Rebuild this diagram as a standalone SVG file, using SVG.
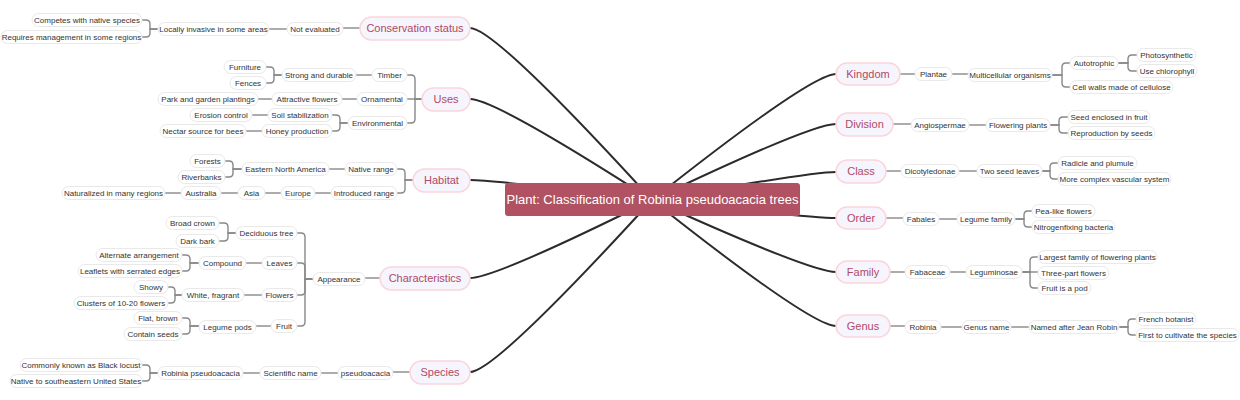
<svg xmlns="http://www.w3.org/2000/svg" width="1240" height="400" viewBox="0 0 1240 400">
<style>
text{font-family:"Liberation Sans",Arial,sans-serif;text-anchor:middle}
.m rect{fill:#f6f4fd;stroke:#fbd5da;stroke-width:1.5}
.m text{font-size:11px;fill:#b04a63}
.s rect{fill:#fff;stroke:#e9e9e9;stroke-width:1}
.s text{font-size:8px;fill:#333}
.main path{fill:none;stroke:#2b2b2b;stroke-width:2}
.sub path{fill:none;stroke:#888;stroke-width:1.4}
</style>
<rect width="1240" height="400" fill="#fff"/>
<g id="connectors">
<g class="main">
<path d="M652 200 Q495 28 470 28"/>
<path d="M652 200 Q495 99 470 99"/>
<path d="M652 200 Q495 180 470 180"/>
<path d="M652 200 Q495 278 470 278"/>
<path d="M652 200 Q495 372 470 372"/>
<path d="M652 200 Q811 74 836 74"/>
<path d="M652 200 Q811 124 836 124"/>
<path d="M652 200 Q811 172 836 172"/>
<path d="M652 200 Q811 218 836 218"/>
<path d="M652 200 Q811 272 836 272"/>
<path d="M652 200 Q811 326 836 326"/>
</g>
<g class="sub">
<path d="M360 28 H343"/><path d="M287 29 H269"/>
<path d="M158 29 H150 V24 Q150 20 146 20 H142"/><path d="M158 29 H150 V33 Q150 37 146 37 H142"/>
<path d="M422 99 H415 V79 Q415 75 411 75 H407"/><path d="M422 99 H407"/><path d="M422 99 H415 V119 Q415 123 411 123 H407"/>
<path d="M372 75 H356"/>
<path d="M282 75 H274 V71 Q274 67 270 67 H266"/><path d="M282 75 H274 V79 Q274 83 270 83 H266"/>
<path d="M357 99 H342"/><path d="M272 99 H258"/>
<path d="M348 123 H340 V119 Q340 115 336 115 H332"/><path d="M348 123 H340 V127 Q340 131 336 131 H332"/>
<path d="M268 115 H252"/><path d="M262 131 H246"/>
<path d="M413 180 H405 V173 Q405 169 401 169 H397"/><path d="M413 180 H405 V189 Q405 193 401 193 H397"/>
<path d="M345 169 H329"/>
<path d="M242 169 H233 V165 Q233 161 229 161 H225"/><path d="M242 169 H233 V173 Q233 177 229 177 H225"/>
<path d="M331 193 H315"/><path d="M281 193 H265"/><path d="M238 193 H221"/><path d="M181 193 H165"/>
<path d="M380 278 H365"/>
<path d="M313 279 H305 V237 Q305 233 301 233 H297"/><path d="M313 279 H305 V267 Q305 263 301 263 H297"/><path d="M313 279 H305 V291 Q305 295 301 295 H297"/><path d="M313 279 H305 V322 Q305 326 301 326 H297"/>
<path d="M236 233 H228 V227 Q228 223 224 223 H219"/><path d="M236 233 H228 V237 Q228 241 224 241 H219"/>
<path d="M262 263 H246"/>
<path d="M199 263 H190 V259 Q190 255 186 255 H182"/><path d="M199 263 H190 V267 Q190 271 186 271 H182"/>
<path d="M262 295 H244"/>
<path d="M182 295 H175 V291 Q175 287 171 287 H168"/><path d="M182 295 H175 V299 Q175 303 171 303 H168"/>
<path d="M271 326 H256"/>
<path d="M199 326 H190 V322 Q190 318 186 318 H182"/><path d="M199 326 H190 V330 Q190 334 186 334 H182"/>
<path d="M410 372 H393"/><path d="M338 373 H321"/><path d="M260 373 H243"/>
<path d="M158 373 H150 V369 Q150 365 146 365 H142"/><path d="M158 373 H150 V377 Q150 381 146 381 H142"/>
<path d="M900 74 H915"/><path d="M952 74 H968"/>
<path d="M1052 75 H1062 V67 Q1062 63 1066 63 H1070"/><path d="M1052 75 H1062 V83 Q1062 87 1066 87 H1070"/>
<path d="M1118 63 H1128 V59 Q1128 55 1132 55 H1137"/><path d="M1118 63 H1128 V67 Q1128 71 1132 71 H1137"/>
<path d="M893 124 H911"/><path d="M969 125 H986"/>
<path d="M1050 125 H1059 V121 Q1059 117 1063 117 H1068"/><path d="M1050 125 H1059 V129 Q1059 133 1063 133 H1068"/>
<path d="M886 171 H901"/><path d="M959 171 H977"/>
<path d="M1042 171 H1050 V167 Q1050 163 1054 163 H1058"/><path d="M1042 171 H1050 V175 Q1050 179 1054 179 H1058"/>
<path d="M886 218 H903"/><path d="M939 219 H957"/>
<path d="M1015 219 H1024 V215 Q1024 211 1028 211 H1032"/><path d="M1015 219 H1024 V223 Q1024 227 1028 227 H1032"/>
<path d="M890 272 H905"/><path d="M950 272 H966"/>
<path d="M1022 272 H1030 V261 Q1030 257 1034 257 H1038"/><path d="M1022 272 H1038"/><path d="M1022 272 H1030 V284 Q1030 288 1034 288 H1038"/>
<path d="M890 326 H905"/><path d="M941 327 H962"/><path d="M1011 327 H1029"/>
<path d="M1119 327 H1128 V323 Q1128 319 1132 319 H1136"/><path d="M1119 327 H1128 V331 Q1128 335 1132 335 H1136"/>
</g>
</g>
<g id="center"><rect x="505" y="183" width="295" height="33" rx="3" fill="#b05262"/><text x="652.5" y="204" font-size="13" fill="#fff">Plant: Classification of Robinia pseudoacacia trees</text></g>
<g id="conservation" class="m"><rect x="360" y="17" width="110" height="23" rx="11.5"/><text x="415" y="32">Conservation status</text></g>
<g id="uses" class="m"><rect x="422" y="88" width="48" height="23" rx="11.5"/><text x="446" y="103">Uses</text></g>
<g id="habitat" class="m"><rect x="413" y="169" width="57" height="23" rx="11.5"/><text x="441.5" y="184">Habitat</text></g>
<g id="characteristics" class="m"><rect x="380" y="267" width="90" height="23" rx="11.5"/><text x="425" y="282">Characteristics</text></g>
<g id="species" class="m"><rect x="410" y="361" width="60" height="23" rx="11.5"/><text x="440" y="376">Species</text></g>
<g id="kingdom" class="m"><rect x="836" y="63" width="64" height="22" rx="11"/><text x="868" y="78">Kingdom</text></g>
<g id="division" class="m"><rect x="836" y="113" width="57" height="23" rx="11.5"/><text x="864.5" y="128">Division</text></g>
<g id="class" class="m"><rect x="836" y="160" width="50" height="23" rx="11.5"/><text x="861" y="175">Class</text></g>
<g id="order" class="m"><rect x="836" y="207" width="50" height="22" rx="11"/><text x="861" y="222">Order</text></g>
<g id="family" class="m"><rect x="836" y="261" width="54" height="22" rx="11"/><text x="863" y="276">Family</text></g>
<g id="genus" class="m"><rect x="836" y="315" width="54" height="22" rx="11"/><text x="863" y="330">Genus</text></g>
<g id="n1" class="s"><rect x="287" y="22.5" width="56" height="13" rx="6.5"/><text x="315" y="32">Not evaluated</text></g>
<g id="n2" class="s"><rect x="158" y="22.5" width="111" height="13" rx="6.5"/><text x="213.5" y="32">Locally invasive in some areas</text></g>
<g id="n3" class="s"><rect x="32" y="13.5" width="110" height="13" rx="6.5"/><text x="87" y="23">Competes with native species</text></g>
<g id="n4" class="s"><rect x="1" y="30.5" width="141" height="13" rx="6.5"/><text x="71.5" y="40">Requires management in some regions</text></g>
<g id="n5" class="s"><rect x="372" y="68.5" width="35" height="13" rx="6.5"/><text x="389.5" y="78">Timber</text></g>
<g id="n6" class="s"><rect x="282" y="68.5" width="74" height="13" rx="6.5"/><text x="319" y="78">Strong and durable</text></g>
<g id="n7" class="s"><rect x="224" y="60.5" width="42" height="13" rx="6.5"/><text x="245" y="70">Furniture</text></g>
<g id="n8" class="s"><rect x="230" y="76.5" width="36" height="13" rx="6.5"/><text x="248" y="86">Fences</text></g>
<g id="n9" class="s"><rect x="357" y="92.5" width="50" height="13" rx="6.5"/><text x="382" y="102">Ornamental</text></g>
<g id="n10" class="s"><rect x="272" y="92.5" width="70" height="13" rx="6.5"/><text x="307" y="102">Attractive flowers</text></g>
<g id="n11" class="s"><rect x="158" y="92.5" width="100" height="13" rx="6.5"/><text x="208" y="102">Park and garden plantings</text></g>
<g id="n12" class="s"><rect x="348" y="116.5" width="59" height="13" rx="6.5"/><text x="377.5" y="126">Environmental</text></g>
<g id="n13" class="s"><rect x="268" y="108.5" width="64" height="13" rx="6.5"/><text x="300" y="118">Soil stabilization</text></g>
<g id="n14" class="s"><rect x="262" y="124.5" width="70" height="13" rx="6.5"/><text x="297" y="134">Honey production</text></g>
<g id="n15" class="s"><rect x="190" y="108.5" width="62" height="13" rx="6.5"/><text x="221" y="118">Erosion control</text></g>
<g id="n16" class="s"><rect x="160" y="124.5" width="86" height="13" rx="6.5"/><text x="203" y="134">Nectar source for bees</text></g>
<g id="n17" class="s"><rect x="345" y="162.5" width="52" height="13" rx="6.5"/><text x="371" y="172">Native range</text></g>
<g id="n18" class="s"><rect x="242" y="162.5" width="87" height="13" rx="6.5"/><text x="285.5" y="172">Eastern North America</text></g>
<g id="n19" class="s"><rect x="190" y="154.5" width="35" height="13" rx="6.5"/><text x="207.5" y="164">Forests</text></g>
<g id="n20" class="s"><rect x="178" y="170.5" width="47" height="13" rx="6.5"/><text x="201.5" y="180">Riverbanks</text></g>
<g id="n21" class="s"><rect x="331" y="186.5" width="66" height="13" rx="6.5"/><text x="364" y="196">Introduced range</text></g>
<g id="n22" class="s"><rect x="281" y="186.5" width="34" height="13" rx="6.5"/><text x="298" y="196">Europe</text></g>
<g id="n23" class="s"><rect x="238" y="186.5" width="27" height="13" rx="6.5"/><text x="251.5" y="196">Asia</text></g>
<g id="n24" class="s"><rect x="181" y="186.5" width="40" height="13" rx="6.5"/><text x="201" y="196">Australia</text></g>
<g id="n25" class="s"><rect x="62" y="186.5" width="103" height="13" rx="6.5"/><text x="113.5" y="196">Naturalized in many regions</text></g>
<g id="n26" class="s"><rect x="313" y="272.5" width="52" height="13" rx="6.5"/><text x="339" y="282">Appearance</text></g>
<g id="n27" class="s"><rect x="236" y="226.5" width="61" height="13" rx="6.5"/><text x="266.5" y="236">Deciduous tree</text></g>
<g id="n28" class="s"><rect x="166" y="216.5" width="53" height="13" rx="6.5"/><text x="192.5" y="226">Broad crown</text></g>
<g id="n29" class="s"><rect x="176" y="234.5" width="43" height="13" rx="6.5"/><text x="197.5" y="244">Dark bark</text></g>
<g id="n30" class="s"><rect x="262" y="256.5" width="35" height="13" rx="6.5"/><text x="279.5" y="266">Leaves</text></g>
<g id="n31" class="s"><rect x="199" y="256.5" width="47" height="13" rx="6.5"/><text x="222.5" y="266">Compound</text></g>
<g id="n32" class="s"><rect x="96" y="248.5" width="86" height="13" rx="6.5"/><text x="139" y="258">Alternate arrangement</text></g>
<g id="n33" class="s"><rect x="78" y="264.5" width="104" height="13" rx="6.5"/><text x="130" y="274">Leaflets with serrated edges</text></g>
<g id="n34" class="s"><rect x="262" y="288.5" width="35" height="13" rx="6.5"/><text x="279.5" y="298">Flowers</text></g>
<g id="n35" class="s"><rect x="182" y="288.5" width="62" height="13" rx="6.5"/><text x="213" y="298">White, fragrant</text></g>
<g id="n36" class="s"><rect x="134" y="280.5" width="34" height="13" rx="6.5"/><text x="151" y="290">Showy</text></g>
<g id="n37" class="s"><rect x="74" y="296.5" width="94" height="13" rx="6.5"/><text x="121" y="306">Clusters of 10-20 flowers</text></g>
<g id="n38" class="s"><rect x="271" y="319.5" width="26" height="13" rx="6.5"/><text x="284" y="329">Fruit</text></g>
<g id="n39" class="s"><rect x="199" y="320.5" width="57" height="13" rx="6.5"/><text x="227.5" y="330">Legume pods</text></g>
<g id="n40" class="s"><rect x="134" y="311.5" width="48" height="13" rx="6.5"/><text x="158" y="321">Flat, brown</text></g>
<g id="n41" class="s"><rect x="124" y="327.5" width="58" height="13" rx="6.5"/><text x="153" y="337">Contain seeds</text></g>
<g id="n42" class="s"><rect x="338" y="366.5" width="55" height="13" rx="6.5"/><text x="365.5" y="376">pseudoacacia</text></g>
<g id="n43" class="s"><rect x="260" y="366.5" width="61" height="13" rx="6.5"/><text x="290.5" y="376">Scientific name</text></g>
<g id="n44" class="s"><rect x="158" y="366.5" width="85" height="13" rx="6.5"/><text x="200.5" y="376">Robinia pseudoacacia</text></g>
<g id="n45" class="s"><rect x="20" y="358.5" width="122" height="13" rx="6.5"/><text x="81" y="368">Commonly known as Black locust</text></g>
<g id="n46" class="s"><rect x="10" y="374.5" width="132" height="13" rx="6.5"/><text x="76" y="384">Native to southeastern United States</text></g>
<g id="n47" class="s"><rect x="915" y="67.5" width="37" height="13" rx="6.5"/><text x="933.5" y="77">Plantae</text></g>
<g id="n48" class="s"><rect x="968" y="68.5" width="84" height="13" rx="6.5"/><text x="1010" y="78">Multicellular organisms</text></g>
<g id="n49" class="s"><rect x="1070" y="56.5" width="48" height="13" rx="6.5"/><text x="1094" y="66">Autotrophic</text></g>
<g id="n50" class="s"><rect x="1070" y="80.5" width="103" height="13" rx="6.5"/><text x="1121.5" y="90">Cell walls made of cellulose</text></g>
<g id="n51" class="s"><rect x="1137" y="48.5" width="59" height="13" rx="6.5"/><text x="1166.5" y="58">Photosynthetic</text></g>
<g id="n52" class="s"><rect x="1137" y="64.5" width="60" height="13" rx="6.5"/><text x="1167" y="74">Use chlorophyll</text></g>
<g id="n53" class="s"><rect x="911" y="118.5" width="58" height="13" rx="6.5"/><text x="940" y="128">Angiospermae</text></g>
<g id="n54" class="s"><rect x="986" y="118.5" width="64" height="13" rx="6.5"/><text x="1018" y="128">Flowering plants</text></g>
<g id="n55" class="s"><rect x="1068" y="110.5" width="82" height="13" rx="6.5"/><text x="1109" y="120">Seed enclosed in fruit</text></g>
<g id="n56" class="s"><rect x="1068" y="126.5" width="87" height="13" rx="6.5"/><text x="1111.5" y="136">Reproduction by seeds</text></g>
<g id="n57" class="s"><rect x="901" y="164.5" width="58" height="13" rx="6.5"/><text x="930" y="174">Dicotyledonae</text></g>
<g id="n58" class="s"><rect x="977" y="164.5" width="65" height="13" rx="6.5"/><text x="1009.5" y="174">Two seed leaves</text></g>
<g id="n59" class="s"><rect x="1058" y="156.5" width="79" height="13" rx="6.5"/><text x="1097.5" y="166">Radicle and plumule</text></g>
<g id="n60" class="s"><rect x="1058" y="172.5" width="113" height="13" rx="6.5"/><text x="1114.5" y="182">More complex vascular system</text></g>
<g id="n61" class="s"><rect x="903" y="212.5" width="36" height="13" rx="6.5"/><text x="921" y="222">Fabales</text></g>
<g id="n62" class="s"><rect x="957" y="212.5" width="58" height="13" rx="6.5"/><text x="986" y="222">Legume family</text></g>
<g id="n63" class="s"><rect x="1032" y="204.5" width="63" height="13" rx="6.5"/><text x="1063.5" y="214">Pea-like flowers</text></g>
<g id="n64" class="s"><rect x="1032" y="220.5" width="83" height="13" rx="6.5"/><text x="1073.5" y="230">Nitrogenfixing bacteria</text></g>
<g id="n65" class="s"><rect x="905" y="265.5" width="45" height="13" rx="6.5"/><text x="927.5" y="275">Fabaceae</text></g>
<g id="n66" class="s"><rect x="966" y="265.5" width="56" height="13" rx="6.5"/><text x="994" y="275">Leguminosae</text></g>
<g id="n67" class="s"><rect x="1038" y="250.5" width="119" height="13" rx="6.5"/><text x="1097.5" y="260">Largest family of flowering plants</text></g>
<g id="n68" class="s"><rect x="1038" y="266.5" width="71" height="13" rx="6.5"/><text x="1073.5" y="276">Three-part flowers</text></g>
<g id="n69" class="s"><rect x="1038" y="281.5" width="53" height="13" rx="6.5"/><text x="1064.5" y="291">Fruit is a pod</text></g>
<g id="n70" class="s"><rect x="905" y="320.5" width="36" height="13" rx="6.5"/><text x="923" y="330">Robinia</text></g>
<g id="n71" class="s"><rect x="962" y="320.5" width="49" height="13" rx="6.5"/><text x="986.5" y="330">Genus name</text></g>
<g id="n72" class="s"><rect x="1029" y="320.5" width="90" height="13" rx="6.5"/><text x="1074" y="330">Named after Jean Robin</text></g>
<g id="n73" class="s"><rect x="1136" y="312.5" width="60" height="13" rx="6.5"/><text x="1166" y="322">French botanist</text></g>
<g id="n74" class="s"><rect x="1136" y="328.5" width="103" height="13" rx="6.5"/><text x="1187.5" y="338">First to cultivate the species</text></g>
</svg>
